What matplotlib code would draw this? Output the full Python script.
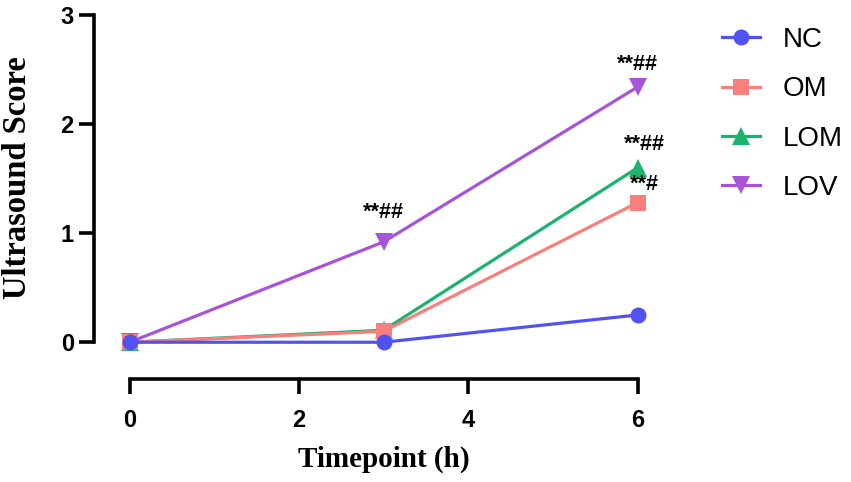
import matplotlib
matplotlib.use("Agg")
import matplotlib.pyplot as plt

timepoints = [0, 3, 6]
groups = ["NC", "OM", "LOM", "LOV"]
nc = [0.0, 0.0, 0.25]
om = [0.0, 0.10, 1.28]
lom = [0.0, 0.11, 1.60]
lov = [0.0, 0.92, 2.34]
series = {"NC": nc, "OM": om, "LOM": lom, "LOV": lov}
colors = {"NC": "#5252F2", "OM": "#F87F7B", "LOM": "#1BB36D", "LOV": "#A655D8"}
markers = {"NC": "o", "OM": "s", "LOM": "^", "LOV": "v"}
msizes = {"NC": 11.5, "OM": 11, "LOM": 12.5, "LOV": 12.5}
xticks = [0, 2, 4, 6]
yticks = [0, 1, 2, 3]
# annotations: (group, time index, text, dx pt, dy pt)
annots = [("LOV", 1, "**##", 0, 21), ("LOV", 2, "**##", 0, 16),
          ("LOM", 2, "**##", 5, 16.5), ("OM", 2, "**#", 5, 13)]

fig = plt.figure(figsize=(8.51, 4.82), dpi=100)
ax = fig.add_axes([94/851, 1 - 379/482, (663-94)/851, (379-15)/482])

handles = {}
for g in reversed(groups):
    h, = ax.plot(timepoints, series[g], color=colors[g], marker=markers[g],
                 markersize=msizes[g], linewidth=2.3, clip_on=False,
                 markeredgewidth=0, zorder=3)
    handles[g] = h

for g, i, txt, dx, dy in annots:
    ax.annotate(txt, xy=(timepoints[i], series[g][i]), xytext=(dx, dy),
                textcoords="offset points", ha="center", va="center",
                fontsize=15.5, fontweight="bold",
                family="Liberation Sans", color="black")

ax.set_xlim(-0.42, 6.3)
ax.set_ylim(-0.337, 3.0)
ax.spines["top"].set_visible(False)
ax.spines["right"].set_visible(False)
ax.spines["left"].set_bounds(0, 3)
ax.spines["bottom"].set_bounds(0, 6)
for s in ("left", "bottom"):
    ax.spines[s].set_linewidth(2.6)
    ax.spines[s].set_capstyle("projecting")
ax.set_xticks(xticks)
ax.set_yticks(yticks)
ax.tick_params(width=2.6, length=10.5, labelsize=17)
ax.tick_params(axis="y", pad=4)
ax.tick_params(axis="x", pad=11)
for lab in ax.get_xticklabels() + ax.get_yticklabels():
    lab.set_fontfamily("Liberation Sans")
    lab.set_fontweight("bold")

ax.set_xlabel("Timepoint (h)", fontsize=21, fontweight="bold", family="Liberation Serif")
ax.set_ylabel("Ultrasound Score", fontsize=23.5, fontweight="bold", family="Liberation Serif")
ax.xaxis.set_label_coords((384-94)/569, (379-446)/364)
ax.yaxis.set_label_coords((33-94)/569, (379-178)/364)

leg = fig.legend([handles[g] for g in groups], groups, loc="upper left",
                 bbox_to_anchor=(722/851, 1 - 27/482), frameon=False,
                 borderpad=0, borderaxespad=0, handlelength=1.37,
                 handletextpad=0.8, labelspacing=0.84,
                 prop={"family": "Liberation Sans", "size": 20})

fig.savefig("out.png", dpi=100)
